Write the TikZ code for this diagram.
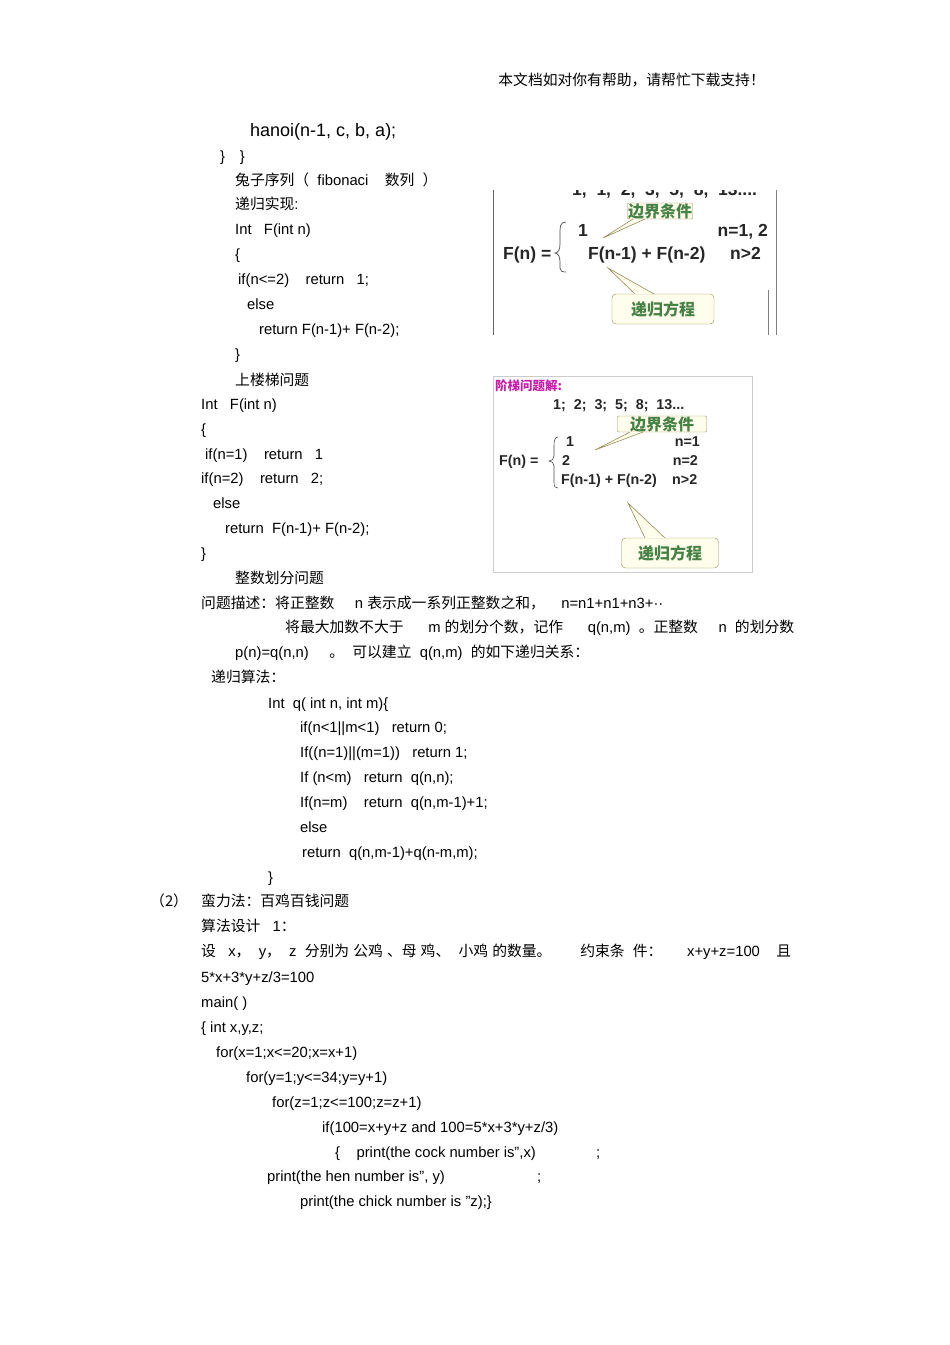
\documentclass[tikz,border=0pt]{standalone}
\usepackage{fontspec}
\setmainfont{Liberation Sans}
\newfontfamily\cjk{Noto Sans CJK SC}
\newcommand\C[1]{{\cjk #1}}
\newcounter{ln}
\newcommand\T[3]{\stepcounter{ln}\node[txt] (L\theln) at (#1,#2) {#3};}
\definecolor{gtxt}{RGB}{70,130,70}
\definecolor{cream}{RGB}{255,253,235}
\definecolor{cbord}{RGB}{150,140,90}
\definecolor{mag}{RGB}{200,30,170}
\begin{document}
\begin{tikzpicture}[x=1pt,y=-1pt,
  txt/.style={anchor=base west,inner sep=0pt,font=\fontsize{14.8}{16}\selectfont},
  fb/.style={inner sep=0pt,anchor=base west,font=\fontsize{17.5}{19}\selectfont\bfseries,text=black!85},
  fs/.style={inner sep=0pt,anchor=base west,font=\fontsize{14.3}{16}\selectfont\bfseries,text=black!85},
  lbl/.style={draw=cbord,fill=cream,rounded corners=4pt,text=gtxt,font=\cjk\fontsize{16}{17}\selectfont\bfseries,inner sep=0pt,minimum height=#1},
  ptr/.style={draw=cbord,line width=0.6pt}]
\useasboundingbox (0,0) rectangle (950,1345);
% header
\node[txt,anchor=base east] (hdr) at (765,85) {\C{本文档如对你有帮助，请帮忙下载支持！}};
\T{250}{136}{\fontsize{18}{20}\selectfont hanoi(n-1, c, b, a);}
\T{220}{161}{\}\quad\}}
\T{235}{185}{\C{兔子序列}\C{（}\ \ fibonaci\ \ \ \ \C{数列}\ \ \C{）}}
\T{235}{209}{\C{递归实现}:}
\T{235}{234}{Int\ \ \ F(int n)}
\T{235}{259}{\{}
\T{238}{284}{if(n<=2)\ \ \ \ return\ \ \ 1;}
\T{247}{309}{else}
\T{259}{334}{return F(n-1)+ F(n-2);}
\T{235}{359}{\}}
\T{235}{385}{\C{上楼梯问题}}
\T{201}{409}{Int\ \ \ F(int n)}
\T{201}{434}{\{}
\T{205}{459}{if(n=1)\ \ \ \ return\ \ \ 1}
\T{201}{483}{if(n=2)\ \ \ \ return\ \ \ 2;}
\T{213}{508}{else}
\T{225}{533}{return\ \ F(n-1)+ F(n-2);}
\T{201}{558}{\}}
\T{235}{583}{\C{整数划分问题}}
\T{201}{608}{\C{问题描述：将正整数}\ \ \ \ \ n \C{表示成一系列正整数之和，}\ \ \ \ n=n1+n1+n3+··}
\T{285}{632}{\C{将最大加数不大于}\ \ \ \ \ \ m \C{的划分个数，记作}\ \ \ \ \ \ q(n,m)\ \ \C{。正整数}\ \ \ \ \ n\ \ \C{的划分数}}
\T{235}{657}{p(n)=q(n,n)\ \ \ \ \ \C{。}\ \ \C{可以建立}\ \ q(n,m)\ \ \C{的如下递归关系：}}
\T{211}{682}{\C{递归算法：}}
\T{268}{708}{Int\ \ q( int n, int m)\{}
\T{300}{732}{if(n<1||m<1)\ \ \ return 0;}
\T{300}{757}{If((n=1)||(m=1))\ \ \ return 1;}
\T{300}{782}{If (n<m)\ \ \ return\ \ q(n,n);}
\T{300}{807}{If(n=m)\ \ \ \ return\ \ q(n,m-1)+1;}
\T{300}{832}{else}
\T{302}{857}{return\ \ q(n,m-1)+q(n-m,m);}
\T{268}{882}{\}}
\T{150}{906}{\C{（2）}}
\T{201}{906}{\C{蛮力法：百鸡百钱问题}}
\T{201}{931}{\C{算法设计}\ \ \ 1\C{：}}
\T{201}{956}{\C{设}\ \ \ x\C{，}\ \ y\C{，}\ \ z\ \ \C{分别为}\ \C{公鸡}\ \C{、母}\ \C{鸡、}\ \ \C{小鸡}\ \C{的数量。}\ \ \ \ \ \ \ \C{约束条}\ \ \C{件：}\ \ \ \ \ \ x+y+z=100\ \ \ \ \C{且}}
\T{201}{982}{5*x+3*y+z/3=100}
\T{201}{1007}{main( )}
\T{201}{1032}{\{ int x,y,z;}
\T{216}{1057}{for(x=1;x<=20;x=x+1)}
\T{246}{1082}{for(y=1;y<=34;y=y+1)}
\T{272}{1107}{for(z=1;z<=100;z=z+1)}
\T{322}{1132}{if(100=x+y+z and 100=5*x+3*y+z/3)}
\T{335}{1157}{\{\ \ \ \ print(the cock number is",x)}
\T{596}{1157}{;}
\T{267}{1181}{print(the hen number is", y)}
\T{537}{1181}{;}
\T{300}{1206}{print(the chick number is "z);\}}
% image 1
\begin{scope}
\clip (493,190) rectangle (777,336);
\draw[black!60,line width=0.8pt] (493,190) -- (493,335);
\draw[black!50] (776,190) -- (776,335);
\draw[black!50] (768,290) -- (768,335);
\node[fb] (seq1) at (572,195) {1,\ \ 1,\ \ 2,\ \ 3,\ \ 5,\ \ 8,\ \ 13....};
\node[fb] (fn1) at (503,259) {F(n) =};
\draw[black!70,line width=0.7pt] (566,222) .. controls (560,222) and (560,226) .. (560,236) -- (560,244) .. controls (560,250) and (558,253) .. (555,253) .. controls (558,253) and (560,256) .. (560,262) -- (560,268) .. controls (560,271) and (562,272) .. (566,272);
\node[fb] (a1) at (578,236) {1};
\node[fb] (b1) at (588,259) {F(n-1) + F(n-2)};
\node[fb,anchor=base east] (c1) at (768,236) {n=1, 2};
\node[fb] (d1) at (730,259) {n>2};
\node[lbl=16pt,minimum width=65pt,rounded corners=1pt] (k1) at (660,211) {边界条件};
\draw[ptr,fill=cream] (633,219) -- (603,238) -- (645,219);
\node[lbl=30pt,minimum width=102pt] (r1) at (663,309) {递归方程};
\draw[ptr,fill=cream] (635,294) -- (608,268) -- (654,294);
\end{scope}
% image 2
\draw[black!20] (493,376) rectangle (752,572);
\node[fs,text=mag,font=\cjk\fontsize{12.5}{13}\selectfont\bfseries] (h2) at (495,390) {阶梯问题解:};
\node[fs] (seq2) at (553,409) {1;\ \ 2;\ \ 3;\ \ 5;\ \ 8;\ \ 13...};
\node[lbl=16pt,minimum width=89pt,rounded corners=1pt] (k2) at (662,424) {边界条件};
\draw[ptr,fill=cream] (630,432) -- (595,450) -- (643,432);
\node[fs] (fn2) at (499,465) {F(n) =};
\draw[black!70,line width=0.6pt] (558,437) .. controls (555,437) and (554,440) .. (554,446) -- (554,456) .. controls (554,459) and (552,461) .. (549,461) .. controls (552,461) and (554,463) .. (554,466) -- (554,482) .. controls (554,487) and (555,488) .. (558,488);
\node[fs] (a2) at (566,446) {1};
\node[fs] (b2) at (562,465) {2};
\node[fs] (c2) at (561,484) {F(n-1) + F(n-2)};
\node[fs,anchor=base east] (d2) at (700,446) {n=1};
\node[fs,anchor=base east] (e2) at (698,465) {n=2};
\node[fs] (f2) at (672,484) {n>2};
\node[lbl=30pt,minimum width=97pt] (r2) at (670,553) {递归方程};
\draw[ptr,fill=cream] (645,538) -- (628,503) -- (665,538);
\end{tikzpicture}
\end{document}
